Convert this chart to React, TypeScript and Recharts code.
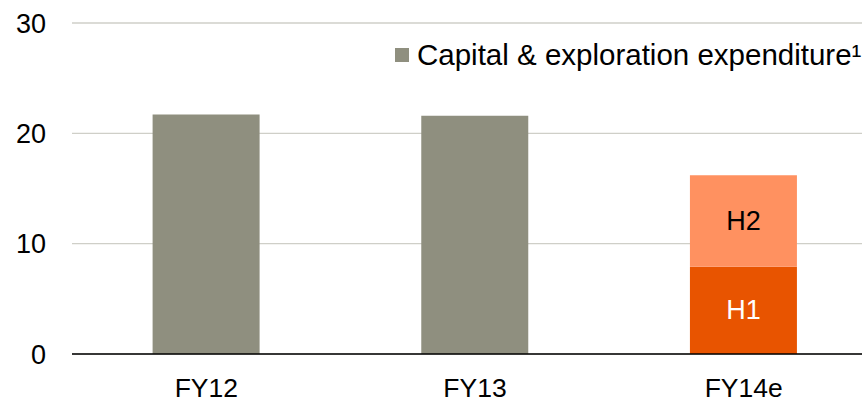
import React from "react";
import { Bar, BarChart, CartesianGrid, LabelList, XAxis, YAxis } from "recharts";

const categories = ["FY12", "FY13", "FY14e"];
const capex = [21.7, 21.6, null];
const h1 = [null, null, 7.9];
const h2 = [null, null, 8.3];
const yTicks = [0, 10, 20, 30];

const data = categories.map((name, i) => ({ name, capex: capex[i], h1: h1[i], h2: h2[i] }));

const FONT = "Arial, 'Liberation Sans', sans-serif";

const halfLabel = (text: string, color: string) => (props: any) => {
  const { x, y, width, height, value } = props;
  if (value == null) return null;
  return (
    <text
      x={Number(x) + Number(width) / 2}
      y={Number(y) + Number(height) / 2}
      textAnchor="middle"
      dominantBaseline="central"
      fill={color}
      fontSize={27}
      fontFamily={FONT}
    >
      {text}
    </text>
  );
};

export default function App() {
  return (
    <div style={{ position: "fixed", left: 0, top: 0, width: 862, height: 402, overflow: "hidden", background: "#fff" }}>
      <BarChart
        width={878}
        height={402}
        data={data}
        margin={{ top: 23, right: 0, bottom: 0, left: 0 }}
        barCategoryGap="30%"
      >
        <CartesianGrid vertical={false} stroke="#CFCFC8" strokeWidth={1.3} />
        <XAxis
          dataKey="name"
          height={48}
          axisLine={{ stroke: "#000", strokeWidth: 1.3 }}
          tickLine={false}
          tickSize={0}
          tickMargin={24}
          tick={{ fill: "#000", fontSize: 26.5, fontFamily: FONT }}
        />
        <YAxis
          width={72}
          domain={[0, 30]}
          ticks={yTicks}
          axisLine={false}
          tickLine={false}
          tickSize={0}
          tickMargin={26}
          tick={{ fill: "#000", fontSize: 27, fontFamily: FONT }}
        />
        <Bar dataKey="capex" name="Capital & exploration expenditure¹" stackId="a" fill="#8F8F7F" isAnimationActive={false} />
        <Bar dataKey="h1" name="H1" stackId="a" fill="#E85400" isAnimationActive={false}>
          <LabelList dataKey="h1" content={halfLabel("H1", "#fff")} />
        </Bar>
        <Bar dataKey="h2" name="H2" stackId="a" fill="#FF9160" isAnimationActive={false}>
          <LabelList dataKey="h2" content={halfLabel("H2", "#000")} />
        </Bar>
      </BarChart>
      <div
        style={{
          position: "absolute",
          left: 395,
          top: 38,
          display: "flex",
          alignItems: "center",
          fontFamily: FONT,
          fontSize: 29.5,
          color: "#000",
          whiteSpace: "nowrap",
        }}
      >
        <span style={{ width: 14, height: 14, background: "#8F8F7F", marginRight: 8, display: "inline-block" }} />
        <span>Capital &amp; exploration expenditure¹</span>
      </div>
    </div>
  );
}
